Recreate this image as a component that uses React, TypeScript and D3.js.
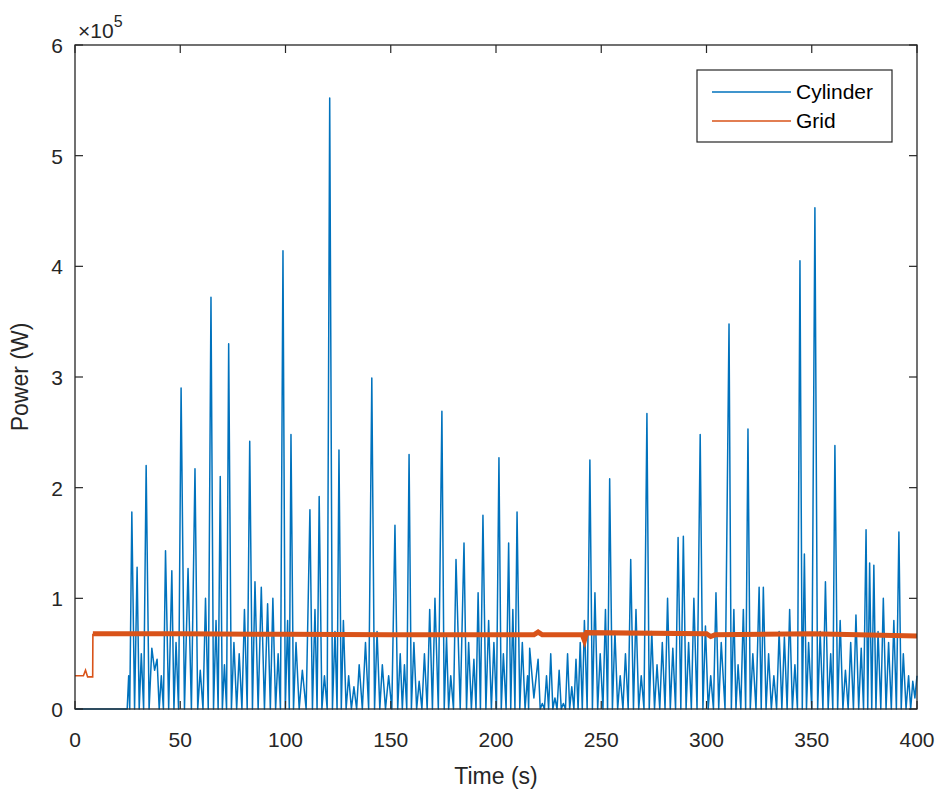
import React from "react";
import * as d3 from "d3";

// Time (s) and power (x 10^5 W)
const cylinderTime = [0, 24.8, 25.5, 26.0, 27.0, 28.3, 29.5, 30.5, 31.5, 32.6, 33.8, 35.2, 36.5, 37.8, 39.0, 40.0, 41.0, 42.0, 43.0, 44.5, 46.0, 47.0, 48.0, 49.2, 50.4, 52.0, 53.7, 55.3, 57.0, 58.3, 59.5, 60.8, 62.0, 63.3, 64.6, 65.8, 67.0, 68.0, 69.0, 70.0, 71.0, 72.0, 73.0, 74.3, 75.5, 76.8, 78.0, 79.3, 80.5, 81.8, 83.0, 84.3, 85.5, 87.0, 88.5, 90.0, 91.5, 92.8, 94.0, 95.3, 96.5, 97.6, 98.8, 99.9, 101.0, 101.8, 102.6, 103.8, 105.0, 106.5, 108.0, 109.8, 111.6, 112.8, 114.0, 115.0, 116.0, 117.3, 118.5, 119.8, 121.0, 122.3, 123.5, 124.5, 125.4, 126.5, 127.5, 128.8, 130.0, 131.3, 132.5, 133.8, 135.0, 136.5, 138.0, 139.5, 141.0, 142.3, 143.5, 144.8, 146.0, 147.5, 149.0, 150.5, 152.0, 153.3, 154.5, 155.5, 156.5, 157.6, 158.7, 159.8, 161.0, 162.3, 163.5, 164.8, 166.0, 167.3, 168.5, 169.8, 171.0, 172.6, 174.3, 175.4, 176.5, 177.5, 178.5, 179.8, 181.0, 183.0, 184.8, 186.0, 187.0, 188.3, 189.5, 190.5, 191.5, 192.6, 193.8, 195.2, 196.5, 197.8, 199.0, 200.2, 201.4, 202.5, 203.5, 204.8, 206.0, 207.0, 208.0, 209.0, 210.0, 211.3, 212.5, 213.8, 215.0, 215.5, 216.0, 218.0, 220.0, 221.0, 222.0, 223.0, 224.0, 225.0, 226.0, 227.0, 228.0, 229.0, 230.0, 231.0, 232.0, 233.0, 234.0, 235.0, 236.0, 237.0, 238.0, 239.0, 240.0, 241.0, 242.0, 243.3, 244.6, 245.8, 247.0, 248.3, 249.5, 250.8, 252.0, 253.0, 254.0, 255.3, 256.5, 257.8, 259.0, 260.3, 261.5, 262.8, 264.0, 265.3, 266.5, 267.8, 269.0, 270.3, 271.7, 272.8, 274.0, 275.3, 276.5, 277.8, 279.0, 280.3, 281.5, 282.8, 284.0, 285.3, 286.5, 287.8, 289.0, 290.3, 291.5, 292.8, 294.0, 295.5, 297.0, 298.3, 299.5, 300.8, 302.0, 303.3, 304.5, 305.8, 307.0, 308.8, 310.7, 311.8, 313.0, 314.0, 315.0, 316.3, 317.5, 318.6, 319.7, 320.8, 322.0, 323.5, 325.0, 326.0, 327.0, 328.3, 329.5, 330.8, 332.0, 333.3, 334.5, 335.8, 337.0, 338.3, 339.5, 340.8, 342.0, 343.2, 344.4, 345.5, 346.5, 347.5, 348.5, 350.0, 351.5, 352.8, 354.0, 355.3, 356.5, 357.8, 359.0, 360.0, 361.0, 362.3, 363.5, 364.8, 366.0, 367.3, 368.5, 369.8, 371.0, 372.3, 373.5, 374.6, 375.8, 376.6, 377.5, 378.5, 379.5, 380.5, 381.5, 382.8, 384.0, 385.3, 386.5, 387.8, 389.0, 390.2, 391.4, 392.5, 393.5, 394.8, 396.0, 397.0, 398.0, 399.0, 400.0];
const cylinderPower = [0, 0, 0.3, 0, 1.78, 0, 1.28, 0, 0.5, 0, 2.2, 0, 0.55, 0.35, 0.45, 0, 0.3, 0, 1.43, 0, 1.25, 0, 0.6, 0, 2.9, 0, 1.27, 0, 2.17, 0, 0.35, 0, 1.0, 0, 3.72, 0, 0.8, 0, 2.1, 0, 0.4, 0, 3.3, 0, 0.6, 0, 0.5, 0, 0.9, 0, 2.42, 0, 1.15, 0, 1.1, 0, 0.95, 0, 1.0, 0, 0.5, 0, 4.14, 0, 0.8, 0, 2.48, 0, 0.6, 0, 0.35, 0, 1.8, 0, 0.9, 0, 1.92, 0, 0.3, 0, 5.52, 0, 0.7, 0, 2.34, 0, 0.8, 0, 0.3, 0, 0.2, 0, 0.4, 0, 0.6, 0, 2.99, 0, 0.7, 0, 0.4, 0, 0.3, 0, 1.66, 0, 0.5, 0, 0.4, 0, 2.3, 0, 0.6, 0, 0.25, 0, 0.5, 0, 0.9, 0, 1.0, 0, 2.69, 0, 0.65, 0, 0.3, 0, 1.35, 0, 1.5, 0, 0.6, 0, 0.45, 0, 1.05, 0, 1.75, 0, 0.8, 0, 0.6, 0, 2.27, 0, 0.5, 0, 1.5, 0, 0.9, 0, 1.78, 0, 0.6, 0, 0.3, 0, 0.55, 0.1, 0.45, 0, 0.05, 0, 0.3, 0, 0.5, 0, 0.1, 0, 0.35, 0, 0.05, 0, 0.5, 0, 0.2, 0, 0.45, 0, 0.6, 0, 0.8, 0, 2.25, 0, 1.05, 0, 0.5, 0, 0.9, 0, 2.08, 0, 0.7, 0, 0.3, 0, 0.5, 0, 1.35, 0, 0.9, 0, 0.3, 0, 2.67, 0, 0.7, 0, 0.4, 0, 0.6, 0, 1.0, 0, 0.55, 0, 1.55, 0, 1.56, 0, 0.6, 0, 1.0, 0, 2.48, 0, 0.75, 0, 0.3, 0, 1.05, 0, 0.6, 0, 3.48, 0, 0.9, 0, 0.4, 0, 0.9, 0, 2.53, 0, 0.5, 0, 1.1, 0, 1.1, 0, 0.5, 0, 0.3, 0, 0.7, 0, 0.65, 0, 0.9, 0, 0.4, 0, 4.05, 0, 1.4, 0, 0.6, 0, 4.53, 0, 0.7, 0, 1.15, 0, 0.5, 0, 2.38, 0, 0.8, 0, 0.35, 0, 0.6, 0, 0.85, 0, 0.55, 0, 1.62, 0, 1.32, 0, 1.3, 0, 0.7, 0, 1.0, 0, 0.6, 0, 0.8, 0, 1.6, 0, 0.5, 0, 0.3, 0, 0.25, 0.1, 0.3];

const gridTime = [0, 4, 5, 6, 8.4, 8.5, 50, 100, 150, 200, 218, 220, 222, 241, 242, 243, 300, 302, 304, 350, 400];
const gridPower = [0.3, 0.3, 0.35, 0.29, 0.29, 0.68, 0.68, 0.675, 0.67, 0.67, 0.67, 0.695, 0.67, 0.67, 0.62, 0.69, 0.68, 0.655, 0.67, 0.68, 0.66];

const xTicks = [0, 50, 100, 150, 200, 250, 300, 350, 400];
const yTicks = [0, 1, 2, 3, 4, 5, 6];
const seriesNames = ["Cylinder", "Grid"];
const seriesColors = ["#0072BD", "#D95319"];

export default function App() {
  const W = 939, H = 795;
  const margin = { left: 75, right: 22, top: 45, bottom: 86 };
  const x = d3.scaleLinear().domain([0, 400]).range([margin.left, W - margin.right]);
  const y = d3.scaleLinear().domain([0, 6]).range([H - margin.bottom, margin.top]);
  const line = d3.line<[number, number]>().x(d => x(d[0])).y(d => y(d[1]));
  const cyl: [number, number][] = cylinderTime.map((t, i) => [t, cylinderPower[i]]);
  const grid: [number, number][] = gridTime.map((t, i) => [t, gridPower[i]]);
  const gridStart = grid.slice(0, 6);
  const gridMain = grid.slice(5);
  const x0 = x(0), x1 = x(400), y0 = y(0), y1 = y(6);
  const tickLen = 8;
  const txt = "#262626";
  const font = "'Liberation Sans', Arial, sans-serif";
  const lg = { x: 697, y: 70, w: 195, h: 72 };
  return (
    <svg width={W} height={H} style={{ position: "absolute", left: 0, top: 0, background: "#fff" }} fontFamily={font}>
      <rect x={0} y={0} width={W} height={H} fill="#fff" />
      <path d={line(cyl) || ""} fill="none" stroke={seriesColors[0]} strokeWidth={1.5} strokeLinejoin="round" />
      <path d={line(gridStart) || ""} fill="none" stroke={seriesColors[1]} strokeWidth={1.6} />
      <path d={line(gridMain) || ""} fill="none" stroke={seriesColors[1]} strokeWidth={5} />
      <rect x={x0} y={y1} width={x1 - x0} height={y0 - y1} fill="none" stroke={txt} strokeWidth={1.3} />
      {xTicks.map(t => (
        <g key={"x" + t}>
          <line x1={x(t)} x2={x(t)} y1={y0} y2={y0 - tickLen} stroke={txt} strokeWidth={1.2} />
          <line x1={x(t)} x2={x(t)} y1={y1} y2={y1 + tickLen} stroke={txt} strokeWidth={1.2} />
          <text x={x(t)} y={y0 + 38} textAnchor="middle" fontSize={21} fill={txt}>{t}</text>
        </g>
      ))}
      {yTicks.map(t => (
        <g key={"y" + t}>
          <line x1={x0} x2={x0 + tickLen} y1={y(t)} y2={y(t)} stroke={txt} strokeWidth={1.2} />
          <line x1={x1} x2={x1 - tickLen} y1={y(t)} y2={y(t)} stroke={txt} strokeWidth={1.2} />
          <text x={x0 - 12} y={y(t) + 8} textAnchor="end" fontSize={21} fill={txt}>{t}</text>
        </g>
      ))}
      <text x={78} y={38} fontSize={21} fill={txt}>
        ×10<tspan dy={-11} fontSize={16}>5</tspan>
      </text>
      <text x={(x0 + x1) / 2} y={784} textAnchor="middle" fontSize={23} fill={txt}>Time (s)</text>
      <text transform={`translate(28,${(y0 + y1) / 2}) rotate(-90)`} textAnchor="middle" fontSize={23} fill={txt}>Power (W)</text>
      <rect x={lg.x} y={lg.y} width={lg.w} height={lg.h} fill="#fff" stroke={txt} strokeWidth={1.2} />
      {seriesNames.map((n, i) => (
        <g key={n}>
          <line x1={lg.x + 15} x2={lg.x + 94} y1={lg.y + 22 + i * 29} y2={lg.y + 22 + i * 29} stroke={seriesColors[i]} strokeWidth={1.6} />
          <text x={lg.x + 99} y={lg.y + 29 + i * 29} fontSize={21} fill="#000">{n}</text>
        </g>
      ))}
    </svg>
  );
}
